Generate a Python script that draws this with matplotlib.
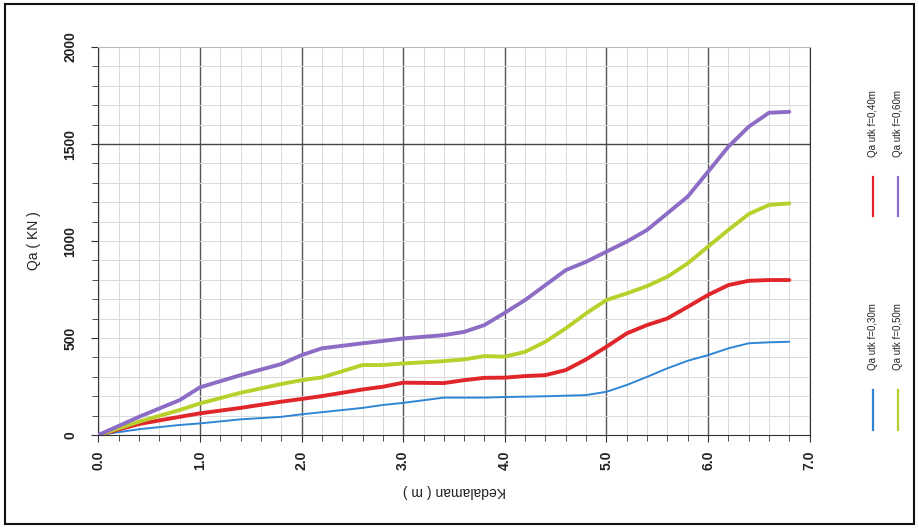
import matplotlib
matplotlib.use('Agg')
import matplotlib.pyplot as plt
from matplotlib.lines import Line2D
from matplotlib.patches import Rectangle
from matplotlib.ticker import MultipleLocator

plt.rcParams['font.family'] = ['Liberation Sans', 'DejaVu Sans']

# depth (m)
depth = [0, 0.4, 0.8, 1.0, 1.4, 1.8, 2.0, 2.2, 2.6, 2.8, 3.0, 3.4, 3.6, 3.8,
         4.0, 4.2, 4.4, 4.6, 4.8, 5.0, 5.2, 5.4, 5.6, 5.8, 6.0, 6.2, 6.4, 6.6, 6.8]

# Qa (KN) for each pile size
qa_030 = [0, 30, 52, 60, 81, 94, 107, 118, 140, 155, 166, 193, 193, 193,
          196, 198, 200, 203, 206, 223, 258, 300, 344, 383, 412, 447, 473, 478, 481]
qa_040 = [0, 57, 94, 112, 140, 172, 186, 201, 235, 249, 270, 268, 283, 295,
          296, 304, 309, 335, 390, 455, 524, 567, 601, 661, 722, 773, 795, 799, 799]
qa_050 = [0, 69, 129, 163, 218, 263, 283, 297, 361, 361, 369, 381, 390, 407,
          404, 429, 481, 550, 627, 696, 730, 768, 816, 885, 971, 1057, 1139, 1186, 1194]
qa_060 = [0, 94, 180, 246, 309, 366, 412, 447, 473, 485, 498, 515, 532, 567,
          630, 696, 773, 850, 893, 945, 997, 1057, 1143, 1229, 1357, 1486, 1589, 1661, 1666]

labels = ['Qa utk f=0,30m', 'Qa utk f=0,40m', 'Qa utk f=0,50m', 'Qa utk f=0,60m']
colors = ['#2f86d6', '#e0262a', '#b9d02c', '#8c6cc4']
widths = [1.4, 2.8, 2.8, 2.8]

fig = plt.figure(figsize=(9.19, 5.28), dpi=100)
ax = fig.add_axes([0.107, 0.176, 0.774, 0.735])

for y, c, w in zip([qa_030, qa_040, qa_050, qa_060], colors, widths):
    ax.plot(depth, y, color=c, lw=w, solid_capstyle='round', zorder=3)

ax.set_xlim(0, 7)
ax.set_ylim(0, 2000)
ax.xaxis.set_major_locator(MultipleLocator(1))
ax.xaxis.set_minor_locator(MultipleLocator(0.2))
ax.yaxis.set_major_locator(MultipleLocator(500))
ax.yaxis.set_minor_locator(MultipleLocator(100))
ax.set_xticks([0, 1, 2, 3, 4, 5, 6, 7])
ax.set_xticklabels(['0.0', '1.0', '2.0', '3.0', '4.0', '5.0', '6.0', '7.0'],
                   rotation=90, fontsize=10, fontweight='bold', color='#222222')
ax.set_yticks([0, 500, 1000, 1500, 2000])
ax.set_yticklabels(['0', '500', '1000', '1500', '2000'], rotation=90,
                   va='center', fontsize=10, fontweight='bold', color='#222222')
ax.tick_params(which='both', direction='out', color='#333333')
ax.tick_params(which='major', length=5)
ax.tick_params(which='minor', length=4)
ax.tick_params(axis='y', pad=10)
ax.tick_params(axis='x', pad=6)

ax.grid(which='minor', color='#dadada', lw=0.7)
ax.grid(which='major', axis='y', color='#dadada', lw=0.7)
ax.grid(which='major', axis='x', color='#555555', lw=1.0)
ax.axhline(1500, color='#444444', lw=1.0, zorder=2)
ax.set_axisbelow(True)
for s in ['left', 'bottom', 'right']:
    ax.spines[s].set_color('#333333')
ax.spines['top'].set_color('#bbbbbb')

ax.set_ylabel('Qa ( KN )', fontsize=10, labelpad=16, color='#222222')
ax.set_xlabel('Kedalaman ( m )', fontsize=10, rotation=180, labelpad=10, color='#222222')

# legend, drawn vertically on the right
leg = [(0.950, 0.83, 1), (0.977, 0.83, 3), (0.950, 0.426, 0), (0.977, 0.426, 2)]
for x, ytop, i in leg:
    fig.text(x, ytop, labels[i], rotation=90, fontsize=7, ha='center', va='top',
             color='#222222')
    fig.add_artist(Line2D([x, x], [ytop - 0.24, ytop - 0.165], color=colors[i],
                          lw=1.6, transform=fig.transFigure))

fig.add_artist(Rectangle((0.005, 0.008), 0.99, 0.985, fill=False, ec='#111111',
                         lw=1.5, transform=fig.transFigure))

fig.savefig('out.png', dpi=100)
